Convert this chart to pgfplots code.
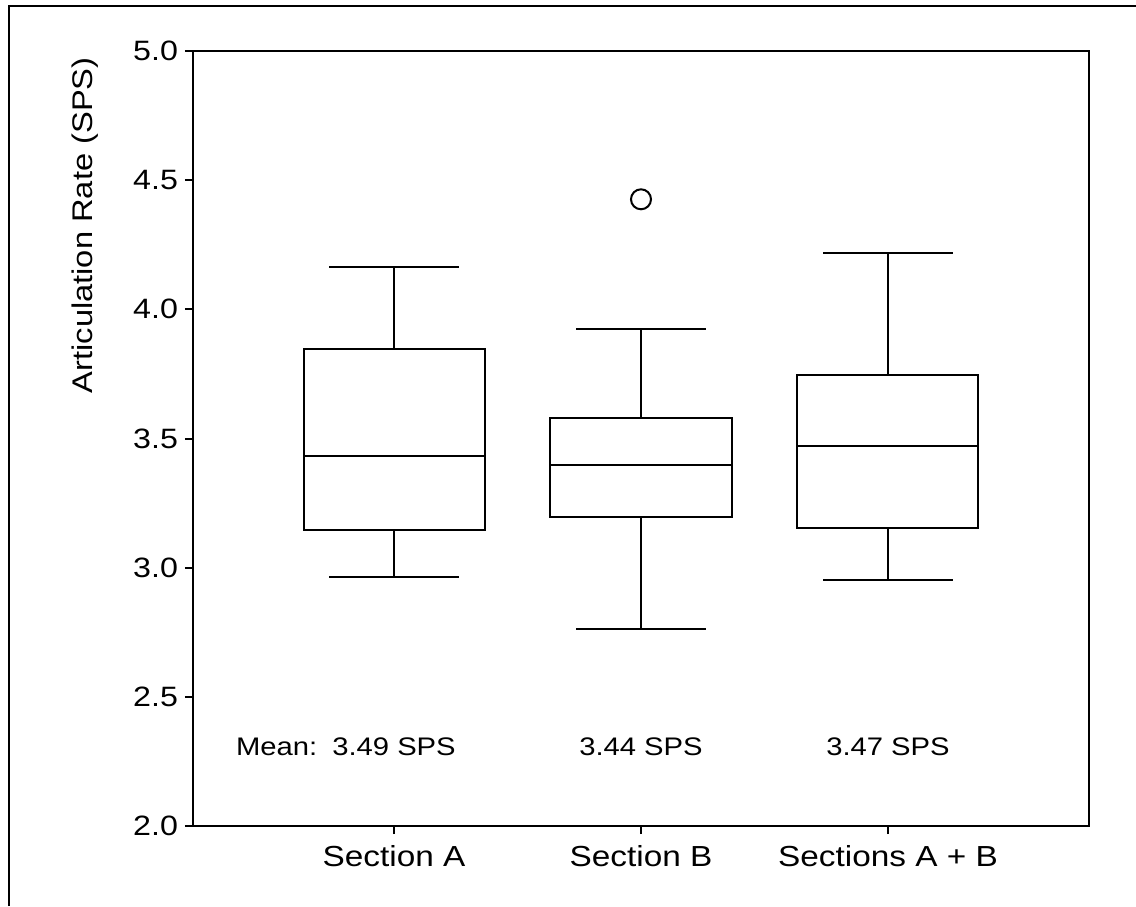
\documentclass[border=0pt]{standalone}
\usepackage{fontspec}
\setmainfont{Liberation Sans}[FakeStretch=1.15]
\usepackage{pgfplots}
\pgfplotsset{compat=1.18}
\usepgfplotslibrary{statistics}
\begin{document}
\begin{tikzpicture}
\begin{axis}[
    at={(0,0)}, anchor=south west,
    scale only axis,
    width=448pt, height=387.5pt,
    xmin=0.186, xmax=3.814,
    ymin=2, ymax=5,
    ytick={2,2.5,3,3.5,4,4.5,5},
    xtick={1,2,3},
    xticklabels={Section A, Section B, Sections A + B},
    xtick pos=bottom, ytick pos=left,
    tick align=outside,
    major tick length=4pt,
    tick style={black, line width=1pt},
    axis line style={line width=1pt},
    /pgf/number format/assume math mode=true,
    yticklabel style={font=\fontsize{14}{16}\selectfont,
        /pgf/number format/.cd, fixed, fixed zerofill, precision=1},
    xticklabel style={font=\fontsize{14.5}{17}\selectfont, yshift=-2pt},
    ylabel={Articulation Rate (SPS)},
    ylabel style={at={(axis description cs:-0.1205,0.775)}, anchor=center,
        font=\fontsize{14.2}{17}\selectfont},
    boxplot/draw direction=y,
    clip=false,
]
% Section A
\addplot[black, line width=1pt, mark=o, mark size=5pt,
    boxplot prepared={lower whisker=2.963, lower quartile=3.146,
        median=3.434, upper quartile=3.845, upper whisker=4.163,
        draw position=1, box extend=0.733, whisker extend=0.526}]
    coordinates {};
% Section B (one outlier)
\addplot[black, line width=1pt, mark=o, mark size=5pt,
    boxplot prepared={lower whisker=2.761, lower quartile=3.197,
        median=3.399, upper quartile=3.581, upper whisker=3.925,
        draw position=2, box extend=0.733, whisker extend=0.526}]
    coordinates {(0,4.426)};
% Sections A + B
\addplot[black, line width=1pt, mark=o, mark size=5pt,
    boxplot prepared={lower whisker=2.954, lower quartile=3.152,
        median=3.471, upper quartile=3.746, upper whisker=4.217,
        draw position=3, box extend=0.733, whisker extend=0.526}]
    coordinates {};

\node[font=\fontsize{12.7}{15}\selectfont] (m1) at (axis cs:1,2.306) {3.49 SPS};
\node[font=\fontsize{12.7}{15}\selectfont, anchor=east] at ([xshift=-0.5pt]m1.west) {Mean:};
\node[font=\fontsize{12.7}{15}\selectfont] at (axis cs:2,2.306) {3.44 SPS};
\node[font=\fontsize{12.7}{15}\selectfont] at (axis cs:3,2.306) {3.47 SPS};
\end{axis}
\pgfresetboundingbox
\path[use as bounding box] (-96.5pt,-40pt) rectangle (471.5pt,413pt);
\draw[line width=1pt] (-92pt,-40pt) -- (-92pt,410pt) -- (471.5pt,410pt);
\end{tikzpicture}
\end{document}
